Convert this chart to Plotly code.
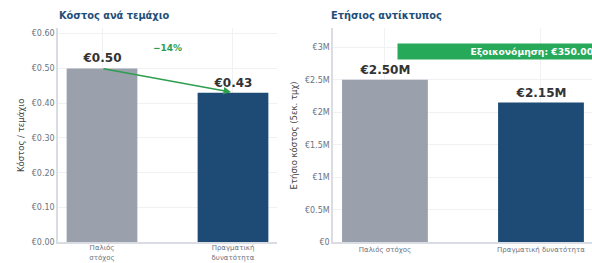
import plotly.graph_objects as go

categories_left = ["Παλιός<br>στόχος", "Πραγματική<br>δυνατότητα"]
categories_right = ["Παλιός στόχος", "Πραγματική δυνατότητα"]
cost_per_unit = [0.50, 0.43]
annual_cost = [2.50e6, 2.15e6]
cost_labels = ["€0.50", "€0.43"]
annual_labels = ["€2.50M", "€2.15M"]
left_tickvals = [0, 0.1, 0.2, 0.3, 0.4, 0.5, 0.6]
left_ticktext = ["€0.00", "€0.10", "€0.20", "€0.30", "€0.40", "€0.50", "€0.60"]
right_tickvals = [0, 0.5e6, 1e6, 1.5e6, 2e6, 2.5e6, 3e6]
right_ticktext = ["€0", "€0.5M", "€1M", "€1.5M", "€2M", "€2.5M", "€3M"]
change_label = "−14%"
savings_label = "Εξοικονόμηση: €350.000/έτος"

GRAY = "#9aa1ad"
BLUE = "#1e4b75"
GREEN = "#2e9e4f"
BANNER = "#27a95a"
TITLE = "#1f4e79"
TICK = "#6b7280"
FONT = "DejaVu Sans"

fig = go.Figure()
fig.add_trace(go.Bar(x=[0, 1], y=cost_per_unit, width=0.54,
                     marker=dict(color=[GRAY, BLUE], line=dict(width=0)),
                     text=cost_labels, textposition="outside", cliponaxis=False,
                     textfont=dict(family=FONT, size=12, color="#333333", weight="bold"),
                     xaxis="x", yaxis="y", showlegend=False, hoverinfo="skip"))
fig.add_trace(go.Bar(x=[0, 1], y=annual_cost, width=0.55,
                     marker=dict(color=[GRAY, BLUE], line=dict(width=0)),
                     text=annual_labels, textposition="outside", cliponaxis=False,
                     textfont=dict(family=FONT, size=12, color="#333333", weight="bold"),
                     xaxis="x2", yaxis="y2", showlegend=False, hoverinfo="skip"))

yb, yt = (263 - 247) / 263, (263 - 29) / 263
axis_common = dict(showline=True, linecolor="#d9dde3", linewidth=1.5,
                   gridcolor="#f0f1f3", zeroline=False, ticks="",
                   tickfont=dict(family=FONT, size=8, color=TICK))
xtick_font = dict(family=FONT, size=7, color=TICK)
fig.update_layout(
    width=592, height=263, margin=dict(l=0, r=0, t=0, b=0),
    plot_bgcolor="white", paper_bgcolor="white",
    font=dict(family=FONT),
    xaxis=dict(domain=[58 / 592, 277 / 592], range=[-0.336, 1.336],
               tickvals=[0, 1], ticktext=categories_left, anchor="y",
               ticklabelstandoff=-2,
               **{**axis_common, "tickfont": xtick_font}),
    yaxis=dict(domain=[yb, yt], range=[0, 0.615], tickvals=left_tickvals,
               ticktext=left_ticktext, anchor="x",
               title=dict(text="Κόστος / τεμάχιο", font=dict(family=FONT, size=8.5, color="#444444"), standoff=6),
               **axis_common),
    xaxis2=dict(domain=[333 / 592, 1.0], range=[-0.333, 1.327],
                tickvals=[0, 1], ticktext=categories_right, anchor="y2",
                ticklabelstandoff=0,
                **{**axis_common, "tickfont": xtick_font}),
    yaxis2=dict(domain=[yb, yt], range=[0, 3.29e6], tickvals=right_tickvals,
                ticktext=right_ticktext, anchor="x2",
                title=dict(text="Ετήσιο κόστος (5εκ. τμχ)", font=dict(family=FONT, size=8.5, color="#444444"), standoff=6),
                **axis_common),
)

fig.add_annotation(xref="paper", yref="paper", x=57 / 592, y=(263 - 16) / 263,
                   xanchor="left", yanchor="middle", showarrow=False,
                   text="<b>Κόστος ανά τεμάχιο</b>",
                   font=dict(family=FONT, size=9.8, color=TITLE))
fig.add_annotation(xref="paper", yref="paper", x=329 / 592, y=(263 - 16) / 263,
                   xanchor="left", yanchor="middle", showarrow=False,
                   text="<b>Ετήσιος αντίκτυπος</b>",
                   font=dict(family=FONT, size=9.8, color=TITLE))

# arrow from old to new
fig.add_annotation(xref="x", yref="y", axref="x", ayref="y",
                   x=0.985, y=cost_per_unit[1] + 0.002, ax=0.0, ay=cost_per_unit[0],
                   showarrow=True, arrowhead=2, arrowsize=1, arrowwidth=1.5,
                   arrowcolor=GREEN, text="")
fig.add_annotation(xref="x", yref="y", x=0.5, y=0.56, showarrow=False,
                   text="<b>" + change_label + "</b>",
                   font=dict(family=FONT, size=9, color=GREEN))

fig.add_annotation(xref="x2", yref="y2", x=0.077, y=2.93e6, xanchor="left",
                   yanchor="middle", showarrow=False, width=296, height=11,
                   align="center", bgcolor=BANNER, borderpad=2,
                   text="<b>" + savings_label + "</b>",
                   font=dict(family=FONT, size=9.2, color="white"))

fig.write_html("out.html", config={"displayModeBar": False, "responsive": False},
               post_script="document.body.style.margin='0';")
